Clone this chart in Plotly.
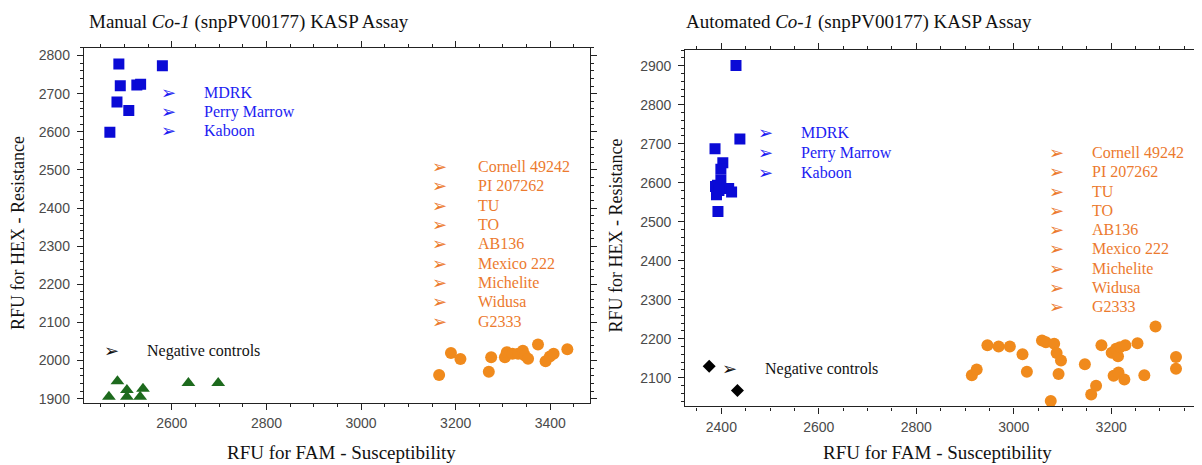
import plotly.graph_objects as go

# The page body has an 8px default margin, so the figure is sized/offset for that.
OFF = 8
W, H = 1202 - OFF, 465 - OFF

# ---------------- Manual assay data (left) ----------------
man_res_x = [2488, 2580, 2491, 2526, 2534, 2484, 2509, 2469]
man_res_y = [2778, 2773, 2721, 2723, 2725, 2678, 2656, 2599]

man_sus_x = [3165, 3190, 3210, 3270, 3275, 3304, 3308, 3320, 3332, 3342, 3346, 3353, 3374, 3390, 3399, 3407, 3436]
man_sus_y = [1962, 2020, 2004, 1971, 2009, 2009, 2022, 2018, 2018, 2026, 2013, 2005, 2042, 1998, 2011, 2018, 2030]

man_neg_x = [2467, 2485, 2505, 2505, 2539, 2533, 2635, 2698]
man_neg_y = [1905, 1946, 1923, 1905, 1926, 1905, 1941, 1941]

# ---------------- Automated assay data (right) ----------------
auto_res_x = [2430, 2438, 2387, 2403, 2399, 2392, 2399, 2390, 2415, 2421, 2393, 2388, 2395]
auto_res_y = [2900, 2712, 2687, 2651, 2634, 2593, 2606, 2569, 2585, 2576, 2526, 2590, 2580]

auto_sus_x = [2914, 2924, 2946, 2969, 2992, 3018, 3027, 3058, 3066, 3083, 3088, 3097, 3092, 3076,
              3146, 3169, 3159, 3180, 3201, 3210, 3214, 3218, 3229, 3205, 3215, 3227, 3254, 3268,
              3291, 3333, 3333]
auto_sus_y = [2106, 2121, 2183, 2180, 2180, 2160, 2115, 2195, 2191, 2187, 2163, 2144, 2109, 2040,
              2134, 2079, 2057, 2183, 2164, 2174, 2155, 2178, 2183, 2105, 2113, 2095, 2188, 2106,
              2231, 2153, 2123]

auto_neg_x = [2375, 2433]
auto_neg_y = [2129, 2067]

# ---------------- Labels ----------------
res_names = ["MDRK", "Perry Marrow", "Kaboon"]
sus_names = ["Cornell 49242", "PI 207262", "TU", "TO", "AB136", "Mexico 222", "Michelite", "Widusa", "G2333"]
neg_name = "Negative controls"
left_title = "Manual <i>Co-1</i> (snpPV00177) KASP Assay"
right_title = "Automated <i>Co-1</i> (snpPV00177) KASP Assay"
x_title = "RFU for FAM - Susceptibility"
y_title = "RFU for HEX - Resistance"

BLUE_M = "#0a0ad6"
BLUE_T = "#1c1cf2"
ORANGE_M = "#f08a1c"
ORANGE_T = "#ec7a2e"
GREEN_M = "#1d6a1d"


def PX(x):
    return (x - OFF) / W


def PY(y):
    return 1 - (y - OFF) / H


fig = go.Figure()


def sc(x, y, sym, color, size, xa, ya):
    fig.add_trace(go.Scatter(x=x, y=y, mode="markers", xaxis=xa, yaxis=ya,
                             marker=dict(symbol=sym, color=color, size=size, line=dict(width=0)),
                             showlegend=False, hoverinfo="x+y"))


sc(man_res_x, man_res_y, "square", BLUE_M, 11, "x", "y")
sc(man_sus_x, man_sus_y, "circle", ORANGE_M, 12, "x", "y")
sc(man_neg_x, man_neg_y, "triangle-up", GREEN_M, 12, "x", "y")
sc(auto_res_x, auto_res_y, "square", BLUE_M, 11, "x2", "y2")
sc(auto_sus_x, auto_sus_y, "circle", ORANGE_M, 12, "x2", "y2")
sc(auto_neg_x, auto_neg_y, "diamond", "black", 10, "x2", "y2")

tickfont = dict(family="Liberation Sans, Arial, sans-serif", size=14, color="#4a4a4a")


def ax(rng, dt, mdt, dom, anchor, standoff):
    return dict(range=rng, dtick=dt, domain=dom, anchor=anchor, showgrid=False, zeroline=False,
                showline=True, linecolor="#222", linewidth=1.2, mirror="allticks",
                ticks="outside", ticklen=6, tickwidth=1.2, tickcolor="#222", tickfont=tickfont,
                ticklabelstandoff=standoff,
                minor=dict(dtick=mdt, ticks="outside", ticklen=3, tickwidth=1, tickcolor="#222", showgrid=False))


fig.update_layout(
    width=W, height=H, margin=dict(l=0, r=0, t=0, b=0),
    paper_bgcolor="white", plot_bgcolor="white",
    xaxis=ax([2414, 3483], 200, 50, [PX(84.3), PX(593)], "y", 2),
    yaxis=ax([1890, 2820], 100, 20, [PY(406), PY(48.3)], "x", 4),
    xaxis2=ax([2326, 3372], 200, 50, [PX(689.3), 1.0], "y2", 2),
    yaxis2=ax([2026, 2941], 100, 20, [PY(410), PY(50)], "x2", 4),
)

serif = "Liberation Serif, Times New Roman, serif"
ann = []


def txt(x, y, s, color, size=16, xanchor="left", family=serif, angle=0):
    ann.append(dict(x=PX(x), y=PY(y), xref="paper", yref="paper", text=s, showarrow=False,
                    xanchor=xanchor, yanchor="middle", textangle=angle,
                    font=dict(family=family, size=size, color=color)))


arrow = "\u27a2"
arrow_font = "DejaVu Sans"
AS = 18

# titles
txt(87, 22, left_title, "#111", 19)
txt(688, 22, right_title, "#111", 19)
# axis titles
txt(343, 456, x_title, "#111", 19, "center")
txt(943, 456, x_title, "#111", 19, "center")
txt(18, 235, y_title, "#111", 18, "center", angle=-90)
txt(620, 237, y_title, "#111", 18, "center", angle=-90)

# left resistant list
for i, n in enumerate(res_names):
    yy = 93 + i * 19.5
    txt(169, yy, arrow, BLUE_T, AS, "center", arrow_font)
    txt(203, yy, n, BLUE_T)
# right resistant list
for i, n in enumerate(res_names):
    yy = 134 + i * 19.8
    txt(770, yy, arrow, BLUE_T, AS, "center", arrow_font)
    txt(804, yy, n, BLUE_T)
# left susceptible list
for i, n in enumerate(sus_names):
    yy = 168 + i * 19.5
    txt(442, yy, arrow, ORANGE_T, AS, "center", arrow_font)
    txt(479, yy, n, ORANGE_T)
# right susceptible list
for i, n in enumerate(sus_names):
    yy = 154 + i * 19.4
    txt(1063, yy, arrow, ORANGE_T, AS, "center", arrow_font)
    txt(1096, yy, n, ORANGE_T)
# negative controls
txt(112, 354, arrow, "#111", AS, "center", arrow_font)
txt(146, 354, neg_name, "#111")
txt(734, 372, arrow, "#111", AS, "center", arrow_font)
txt(767, 372, neg_name, "#111")

fig.update_layout(annotations=ann)
fig.write_html("out.html")
